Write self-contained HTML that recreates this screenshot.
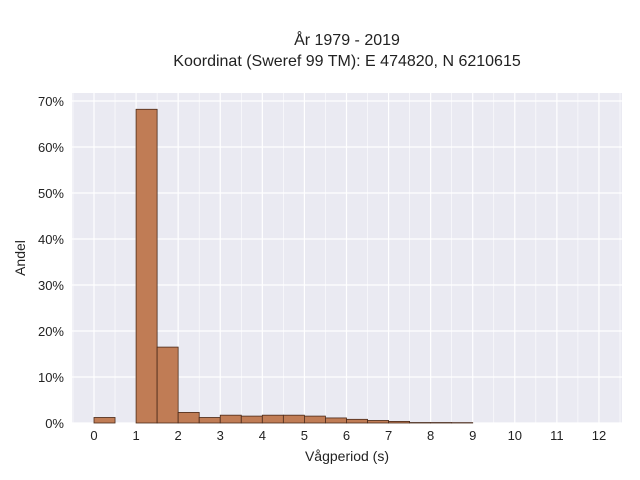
<!DOCTYPE html>
<html><head><meta charset="utf-8"><style>
body{margin:0;background:#fff;}
svg{display:block;font-family:"Liberation Sans",sans-serif;}
</style></head><body>
<svg id="chart" width="640" height="480">
<text x="347" y="45" text-anchor="middle" font-size="16" fill="#222">År 1979 - 2019</text>
<text x="347" y="66" text-anchor="middle" font-size="16" fill="#222">Koordinat (Sweref 99 TM): E 474820, N 6210615</text>
<rect x="72" y="93" width="550" height="330" fill="#eaeaf2"/>
<g id="grid"></g><g id="bars"></g><g id="ticks"></g>
<text x="347" y="461" text-anchor="middle" font-size="14" fill="#222">Vågperiod (s)</text>
<text transform="translate(25,258) rotate(-90)" text-anchor="middle" font-size="14" fill="#222">Andel</text>
</svg>
<script>
const binStarts=[0,0.5,1,1.5,2,2.5,3,3.5,4,4.5,5,5.5,6,6.5,7,7.5,8,8.5];
const shares=[1.2,0,68.2,16.5,2.3,1.2,1.7,1.5,1.7,1.7,1.5,1.1,0.8,0.55,0.35,0.1,0.1,0.08];
const xTicks=[0,1,2,3,4,5,6,7,8,9,10,11,12];
const yTicks=[0,10,20,30,40,50,60,70];
const binWidth=0.5;
const NS="http://www.w3.org/2000/svg";
const X=v=>94+v*42.08, Y=v=>423-v*4.6;
const grid=document.getElementById('grid'),bars=document.getElementById('bars'),ticks=document.getElementById('ticks');
function mk(tag,attrs,parent){const e=document.createElementNS(NS,tag);for(const k in attrs)e.setAttribute(k,attrs[k]);parent.appendChild(e);return e;}
for(let v=-0.5;v<=12.5;v+=0.5){
 const l=mk('line',{x1:X(v),x2:X(v),y1:93,y2:423,stroke:'#fff','stroke-width':Number.isInteger(v)?1.2:0.6},grid);
 
 
}
yTicks.forEach(t=>{
 const l=mk('line',{x1:72,x2:622,y1:Y(t),y2:Y(t),stroke:'#fff','stroke-width':1.2},grid);
 
 
 const tx=mk('text',{x:64,y:Y(t)+5,'text-anchor':'end','font-size':13,fill:'#222'},ticks);
 tx.textContent=t+'%';
 
 
});
xTicks.forEach(t=>{
 const tx=mk('text',{x:X(t),y:440,'text-anchor':'middle','font-size':13,fill:'#222'},ticks);
 tx.textContent=t;
 
 
});
binStarts.forEach((b,i)=>{
 if(shares[i]<=0)return;
 const r=mk('rect',{x:X(b),y:Y(shares[i]),width:X(b+binWidth)-X(b),height:Y(0)-Y(shares[i]),fill:'#c07c55',stroke:'#4a2a1a','stroke-width':0.8},bars);
 
 
});
</script>
</body></html>
